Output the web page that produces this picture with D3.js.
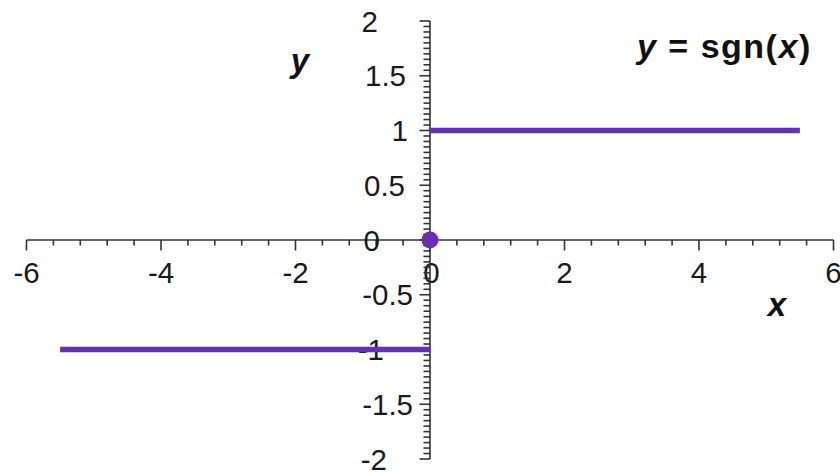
<!DOCTYPE html>
<html>
<head>
<meta charset="utf-8">
<script src="https://cdn.jsdelivr.net/npm/d3@7"></script>
<style>
  html, body { margin: 0; padding: 0; background: #fff; }
  svg { display: block; }
  text { font-family: "Liberation Sans", Arial, sans-serif; fill: #1a1a1a; }
</style>
</head>
<body>
<svg id="chart" width="840" height="472"></svg>
<script>
// Sign function: two horizontal branches and the isolated point at the origin
const branchX0 = [-5.5, 0];
const branchX1 = [0, 5.5];
const branchY = [-1, 1];
const originPoint = [0, 0];

// Axis tick values and their labels
const xMajorTicks = [-6, -4, -2, 0, 2, 4, 6];
const xTickLabels = ["-6", "-4", "-2", "0", "2", "4", "6"];
const yMajorTicks = [-2, -1.5, -1, -0.5, 0, 0.5, 1, 1.5, 2];
const yTickLabels = ["-2", "-1.5", "-1", "-0.5", "0", "0.5", "1", "1.5", "2"];

const svg = d3.select("#chart");

const x = d3.scaleLinear().domain([-6, 6]).range([26.5, 833.5]);
const y = d3.scaleLinear().domain([-2, 2]).range([459, 21]);

const axisColor = "#333";
const purple = "#6a2fae";

const x0 = x(0), y0 = y(0);

// ---- x axis: major ticks every 2, minor every 0.4 ----
const gx = svg.append("g").attr("transform", `translate(0,${y0})`);
gx.append("line")
  .attr("x1", x(-6)).attr("x2", x(6))
  .attr("stroke", axisColor).attr("stroke-width", 1.6);
const xMinor = d3.range(-15, 16).map(i => i * 0.4)
  .filter(v => Math.abs(v / 2 - Math.round(v / 2)) > 1e-6);
gx.selectAll("line.minor").data(xMinor).join("line")
  .attr("class", "minor")
  .attr("x1", d => x(d)).attr("x2", d => x(d))
  .attr("y1", 0).attr("y2", 5.5)
  .attr("stroke", axisColor).attr("stroke-width", 1.6);
gx.selectAll("line.major").data(xMajorTicks).join("line")
  .attr("class", "major")
  .attr("x1", d => x(d)).attr("x2", d => x(d))
  .attr("y1", 0).attr("y2", 10.5)
  .attr("stroke", axisColor).attr("stroke-width", 1.6);
gx.selectAll("text").data(xMajorTicks).join("text")
  .attr("x", d => x(d) + (d === 0 ? 1.5 : 0))
  .attr("y", 43)
  .attr("text-anchor", "middle")
  .attr("font-size", 29.5)
  .text((d, i) => xTickLabels[i]);

// ---- y axis: major ticks every 0.5, minor every 0.05 ----
const gy = svg.append("g").attr("transform", `translate(${x0},0)`);
gy.append("line")
  .attr("y1", y(-2)).attr("y2", y(2))
  .attr("stroke", axisColor).attr("stroke-width", 1.6);
const yMinor = d3.range(-40, 41).map(i => i * 0.05)
  .filter(v => Math.abs(v * 2 - Math.round(v * 2)) > 1e-6);
gy.selectAll("line.minor").data(yMinor).join("line")
  .attr("class", "minor")
  .attr("y1", d => y(d)).attr("y2", d => y(d))
  .attr("x1", 0).attr("x2", -6.5)
  .attr("stroke", axisColor).attr("stroke-width", 1.6);
gy.selectAll("line.major").data(yMajorTicks).join("line")
  .attr("class", "major")
  .attr("y1", d => y(d)).attr("y2", d => y(d))
  .attr("x1", 0).attr("x2", -10.5)
  .attr("stroke", axisColor).attr("stroke-width", 1.6);

// right edge of each y label, measured from the axis line
const yLabelEnd = { "-2": -43, "-1.5": -17, "-1": -46, "-0.5": -17, "0": -50, "0.5": -25, "1": -22, "1.5": -24, "2": -52 };
gy.selectAll("text").data(yMajorTicks).join("text")
  .attr("x", d => yLabelEnd[String(d)])
  .attr("y", d => y(d) + 10.5)
  .attr("text-anchor", "end")
  .attr("font-size", 29.5)
  .text((d, i) => yTickLabels[i]);

// ---- sign function branches ----
const branches = [
  { xs: branchX0, v: branchY[0] },
  { xs: branchX1, v: branchY[1] }
];
svg.selectAll("line.branch").data(branches).join("line")
  .attr("class", "branch")
  .attr("x1", d => x(d.xs[0])).attr("x2", d => x(d.xs[1]))
  .attr("y1", d => y(d.v)).attr("y2", d => y(d.v))
  .attr("stroke", purple).attr("stroke-width", 5.5);

svg.append("circle")
  .attr("cx", x(originPoint[0])).attr("cy", y(originPoint[1]))
  .attr("r", 8.5)
  .attr("fill", purple);

// ---- axis names and title ----
svg.append("text")
  .attr("x", 300).attr("y", 72)
  .attr("text-anchor", "middle")
  .attr("font-size", 33).attr("font-weight", "bold").attr("font-style", "italic")
  .style("fill", "#111")
  .text("y");

svg.append("text")
  .attr("x", 777).attr("y", 316)
  .attr("text-anchor", "middle")
  .attr("font-size", 33).attr("font-weight", "bold").attr("font-style", "italic")
  .style("fill", "#111")
  .text("x");

const title = svg.append("text")
  .attr("x", 637).attr("y", 58)
  .attr("font-size", 34).attr("font-weight", "bold")
  .attr("letter-spacing", 1.5)
  .style("fill", "#111");
title.append("tspan").attr("font-style", "italic").text("y");
title.append("tspan").text(" = sgn(");
title.append("tspan").attr("font-style", "italic").text("x");
title.append("tspan").text(")");
</script>
</body>
</html>
